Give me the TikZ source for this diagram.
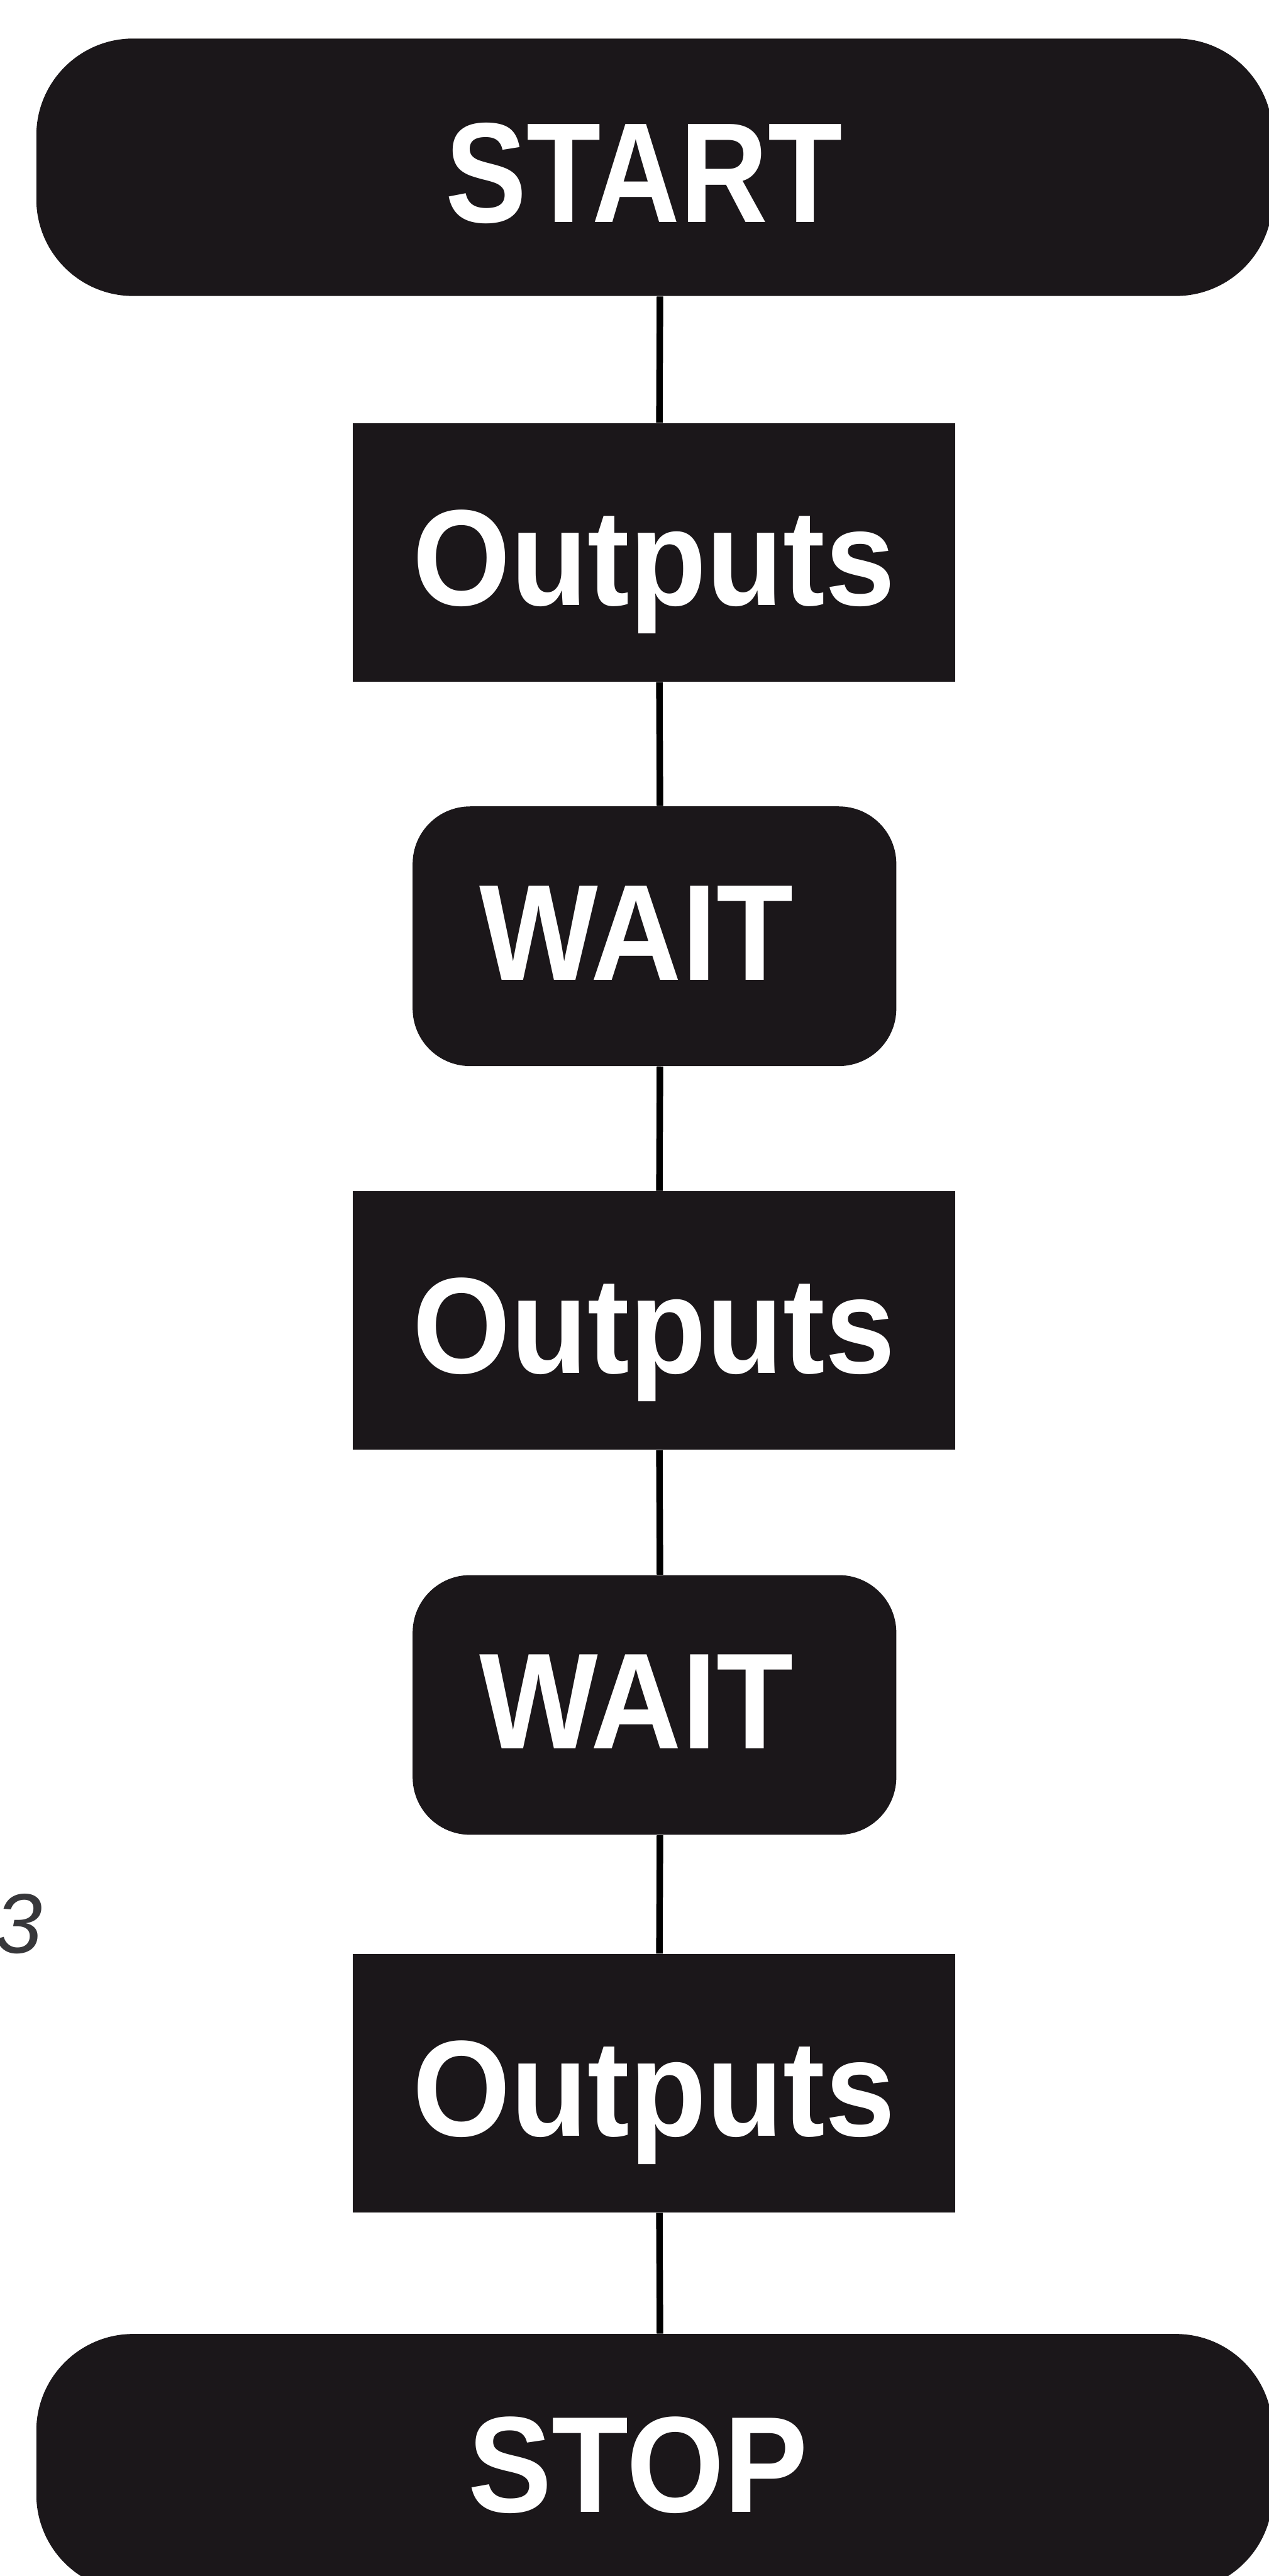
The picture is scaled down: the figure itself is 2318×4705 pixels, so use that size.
\documentclass[tikz,border=0pt]{standalone}
\usepackage{fontspec}
\newfontfamily\blockfont{Liberation Sans}[FakeStretch=0.92]
\newfontfamily\startfont{Liberation Sans}[FakeStretch=0.855]
\newfontfamily\notefont{Liberation Sans}
\definecolor{ink}{RGB}{27,23,26}
\definecolor{notegray}{RGB}{55,55,58}

\begin{document}
\begin{tikzpicture}[x=0.01cm, y=-0.01cm,
  blockfill/.style={fill=ink, draw=none, inner sep=0pt},
  term/.style={blockfill, rectangle, minimum width=22.57cm, minimum height=4.70cm, rounded corners=1.77cm},
  act/.style={blockfill, rectangle, minimum width=10.99cm, minimum height=4.72cm},
  pause/.style={blockfill, rectangle, minimum width=8.83cm, minimum height=4.74cm, rounded corners=1.05cm},
  word/.style={text=white, inner sep=0pt, text height=1.8cm, text depth=0pt,
               font=\blockfont\bfseries\fontsize{71pt}{80pt}\selectfont},
  bigword/.style={word, font=\startfont\bfseries\fontsize{74pt}{82pt}\selectfont},
  link/.style={draw=black, line width=0.12cm}]

  \useasboundingbox (0,0) rectangle (2318,4705);

  % program steps, top to bottom
  \node[term,  label={[bigword, xshift=-0.19cm, yshift=-0.10cm]center:START}]   (start) at (1195.5, 305.5) {};
  \node[act,   label={[word, yshift=-0.06cm]center:Outputs}]                     (out1)  at (1194.5, 1009) {};
  \node[pause, label={[word, xshift=-0.33cm, yshift=0.10cm]center:WAIT}]        (wait1) at (1195.5, 1710) {};
  \node[act,   label={[word, yshift=-0.06cm]center:Outputs}]                     (out2)  at (1194.5, 2412) {};
  \node[pause, label={[word, xshift=-0.33cm, yshift=0.10cm]center:WAIT}]        (wait2) at (1195.5, 3114) {};
  \node[act,   label={[word, yshift=-0.06cm]center:Outputs}]                     (out3)  at (1194.5, 3805) {};
  \node[term,  label={[word, xshift=-0.30cm]center:STOP}]                        (stop)  at (1195.5, 4498) {};

  % flow lines
  \foreach \a/\b in {start/out1, out1/wait1, wait1/out2, out2/wait2, wait2/out3, out3/stop}
    \draw[link] ([xshift=0.1cm]\a.south) -- ([xshift=0.1cm]\b.north);

  % figure number at the left margin
  \node[text=notegray, inner sep=0pt, anchor=base east,
        font=\notefont\itshape\fontsize{44pt}{50pt}\selectfont] (fignum) at (78, 3567) {3};
\end{tikzpicture}
\end{document}
